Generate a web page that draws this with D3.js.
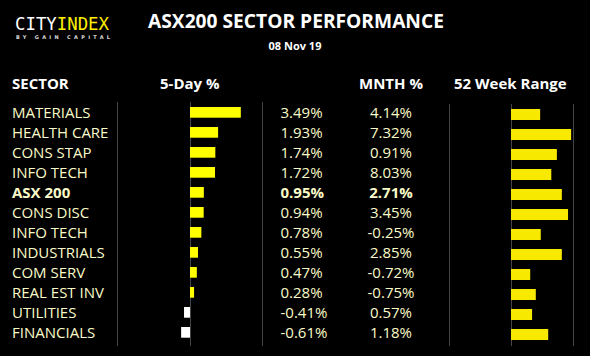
<!DOCTYPE html>
<html><head><meta charset="utf-8">
<script src="https://cdn.jsdelivr.net/npm/d3@7"></script>
<style>html,body{margin:0;padding:0;background:#000;}svg{display:block;}</style>
</head><body>
<script>
const sectors = ["MATERIALS","HEALTH CARE","CONS STAP","INFO TECH","ASX 200","CONS DISC","INFO TECH","INDUSTRIALS","COM SERV","REAL EST INV","UTILITIES","FINANCIALS"];
const fiveDay = [3.49,1.93,1.74,1.72,0.95,0.94,0.78,0.55,0.47,0.28,-0.41,-0.61];
const month = [4.14,7.32,0.91,8.03,2.71,3.45,-0.25,2.85,-0.72,-0.75,0.57,1.18];
const range52 = [47,97,74,65,82,92,48,82,31,40,34,60];
const headers = ["SECTOR","5-Day %","MNTH %","52 Week Range"];
const boldRow = "ASX 200";

const W=590,H=356;
const svg=d3.select("body").append("svg").attr("width",W).attr("height",H);
svg.append("rect").attr("width",W).attr("height",H).attr("fill","#000");

const txt="#fbfbc8", font="'Open Sans', sans-serif";
// logo
const logo=svg.append("text").attr("x",15).attr("y",30).attr("font-family","'DejaVu Sans Mono', monospace").attr("font-size",17).attr("textLength",94).attr("lengthAdjust","spacingAndGlyphs");
logo.append("tspan").attr("fill","#fff").text("CITY");
logo.append("tspan").attr("fill","#ffef00").text("INDEX");
svg.append("text").attr("x",16).attr("y",38.5).attr("font-family","'DejaVu Sans', sans-serif").attr("font-size",5).attr("font-weight","bold").attr("fill","#ddd").attr("textLength",94).attr("lengthAdjust","spacing").text("BY GAIN CAPITAL");

svg.append("text").attr("x",296).attr("y",27.5).attr("text-anchor","middle").attr("font-family",font).attr("font-weight","bold").attr("font-size",19.2).attr("fill","#fff").text("ASX200 SECTOR PERFORMANCE");
svg.append("text").attr("x",295).attr("y",50).attr("text-anchor","middle").attr("font-family",font).attr("font-weight","bold").attr("font-size",11).attr("fill","#fff").text("08 Nov 19");

const hx=[12,160,359,454];
svg.selectAll("text.hdr").data(headers).join("text").attr("class","hdr")
  .attr("x",(d,i)=>hx[i]).attr("y",89).attr("font-family",font).attr("font-weight","bold").attr("font-size",15).attr("fill","#fff").text(d=>d);

const y=d3.scaleBand().domain(d3.range(sectors.length)).range([103,343]);
const x5=d3.scaleLinear().domain([0,3.49]).range([190,240.8]);
const xr=d3.scaleLinear().domain([0,100]).range([511,573]);

// grid lines
[[117,102],[190,102],[262,102],[449,104],[511,104],[573,104]].forEach(([lx,ly])=>{
  svg.append("line").attr("x1",lx+0.5).attr("x2",lx+0.5).attr("y1",ly).attr("y2",346).attr("stroke","#454545").attr("stroke-width",1);
});

// 5-day bars
svg.selectAll("rect.b5").data(fiveDay).join("rect").attr("class","b5")
  .attr("x",d=>Math.min(x5(0),x5(d))).attr("width",d=>Math.abs(x5(d)-x5(0)))
  .attr("y",(d,i)=>y(i)+4).attr("height",10.7)
  .attr("fill",d=>d>=0?"#ffff00":"#ffffff");

// 52wk bars
svg.selectAll("rect.br").data(range52).join("rect").attr("class","br")
  .attr("x",xr(0)).attr("width",d=>xr(d)-xr(0))
  .attr("y",(d,i)=>y(i)+6).attr("height",11).attr("fill","#f7e900");

const rows=svg.selectAll("g.row").data(sectors).join("g").attr("class","row");
rows.append("text").attr("x",12).attr("y",(d,i)=>y(i)+15).attr("font-family",font).attr("font-size",15)
  .attr("font-weight",d=>d===boldRow?"bold":"normal").attr("fill",txt).text(d=>d);
rows.append("text").attr("x",280.5).attr("y",(d,i)=>y(i)+15).attr("font-family",font).attr("font-size",15)
  .attr("font-weight",d=>d===boldRow?"bold":"normal").attr("fill",txt).text((d,i)=>fiveDay[i].toFixed(2)+"%");
rows.append("text").attr("x",391).attr("y",(d,i)=>y(i)+15).attr("text-anchor","middle").attr("font-family",font).attr("font-size",15)
  .attr("font-weight",d=>d===boldRow?"bold":"normal").attr("fill",txt).text((d,i)=>month[i].toFixed(2)+"%");
</script>
</body></html>
